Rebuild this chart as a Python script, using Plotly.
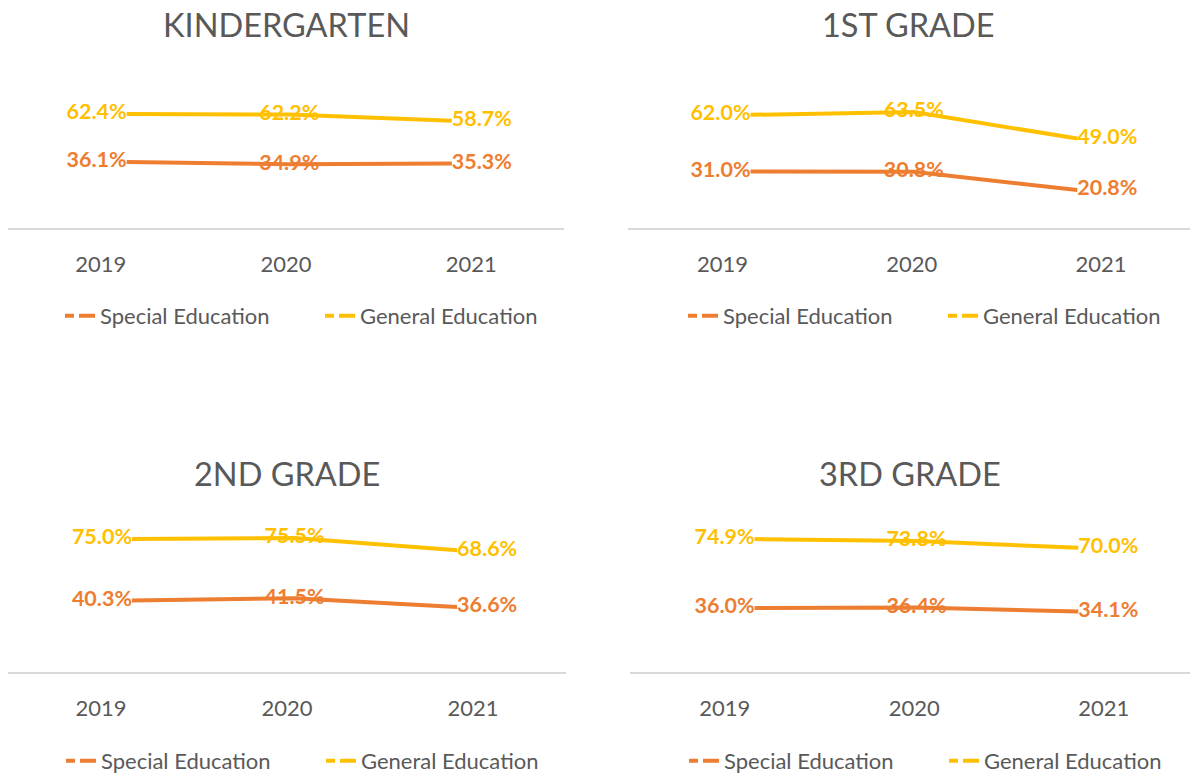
import plotly.graph_objects as go

# data (percent)
years = [2019, 2020, 2021]
panel_titles = ["KINDERGARTEN", "1ST GRADE", "2ND GRADE", "3RD GRADE"]
special_ed = [
    [36.1, 34.9, 35.3],
    [31.0, 30.8, 20.8],
    [40.3, 41.5, 36.6],
    [36.0, 36.4, 34.1],
]
general_ed = [
    [62.4, 62.2, 58.7],
    [62.0, 63.5, 49.0],
    [75.0, 75.5, 68.6],
    [74.9, 73.8, 70.0],
]
series_names = ["Special Education", "General Education"]

ORANGE = "#ED7D31"
YELLOW = "#FFC000"
GREY = "#595959"
FONT = "Lato, 'Open Sans', sans-serif"

W, H = 1190, 775

# panel geometry in pixels: (left, right, axis y, top y)
panels = [
    (8, 564, 228, 82),
    (628, 1190, 228, 82),
    (8, 566, 672, 530),
    (630, 1190, 672, 530),
]
# category axis range / line axis range per panel
tick_ranges = [(2018.5, 2021.5), (2018.5, 2021.47), (2018.5, 2021.5), (2018.5, 2021.455)]
line_ranges = [(2018.27, 2021.69), (2018.25, 2021.69), (2018.237, 2021.67), (2018.23, 2021.69)]
title_y = [25, 25, 474, 474]
legend_y = [316, 316, 761, 761]
legend_shift = 34

fig = go.Figure()
label_pos = ["middle left", "middle center", "middle right"]

for i in range(4):
    n = i + 1
    xb = "x" if n == 1 else f"x{n}"
    yb = "y" if n == 1 else f"y{n}"
    xo = f"x{n + 4}"
    leg = "legend" if n == 1 else f"legend{n}"

    for name, vals, color in [(series_names[0], special_ed[i], ORANGE),
                              (series_names[1], general_ed[i], YELLOW)]:
        fig.add_trace(go.Scatter(
            x=years, y=vals, xaxis=xo, yaxis=yb, mode="lines+text",
            line=dict(color=color, width=4),
            text=[f"{v:.1f}%" for v in vals], textposition=label_pos,
            textfont=dict(family=FONT, size=21.5, color=color, weight="bold"),
            showlegend=False, hoverinfo="skip", cliponaxis=False,
        ))
        # legend key (Excel draws it as a broken line)
        fig.add_trace(go.Scatter(
            x=[None], y=[None], xaxis=xb, yaxis=yb, mode="lines", name=name,
            line=dict(color=color, width=4, dash="9px,5px,16px"), legend=leg,
        ))

    left, right, y0, ytop = panels[i]
    xdom = [left / W, right / W]
    ydom = [1 - y0 / H, 1 - ytop / H]

    fig.layout[f"xaxis{'' if n == 1 else n}"] = dict(
        domain=xdom, anchor=yb, range=list(tick_ranges[i]),
        tickvals=years, ticktext=[str(y) for y in years],
        showgrid=False, zeroline=False, showline=True,
        linecolor="#D9D9D9", linewidth=1.5, ticks="",
        ticklabelstandoff=16,
        tickfont=dict(family=FONT, size=22, color=GREY), fixedrange=True,
    )
    fig.layout[f"xaxis{n + 4}"] = dict(
        overlaying=xb, anchor=yb, range=list(line_ranges[i]),
        visible=False, fixedrange=True,
    )
    fig.layout[f"yaxis{'' if n == 1 else n}"] = dict(
        domain=ydom, anchor=xb, range=[0, 80], visible=False, fixedrange=True,
    )
    fig.layout[leg] = dict(
        orientation="h", x=((left + right) / 2 + legend_shift) / W, xanchor="center",
        y=1 - legend_y[i] / H, yanchor="middle",
        font=dict(family=FONT, size=22, color=GREY),
        entrywidth=215, bgcolor="rgba(0,0,0,0)",
    )
    fig.add_annotation(
        text=panel_titles[i], xref="paper", yref="paper",
        x=(left + right) / 2 / W, y=1 - title_y[i] / H,
        xanchor="center", yanchor="middle", showarrow=False,
        font=dict(family=FONT, size=32.5, color=GREY),
    )

fig.update_layout(
    width=W, height=H,
    # legends must not push the margins (that would shrink the panels)
    margin=dict(l=0, r=0, t=0, b=0, autoexpand=False),
    paper_bgcolor="white", plot_bgcolor="white",
)

# drop the default body margin so the figure fills the window exactly
fig.write_html("out.html", config={"displayModeBar": False},
               post_script="document.body.style.margin = '0';")
